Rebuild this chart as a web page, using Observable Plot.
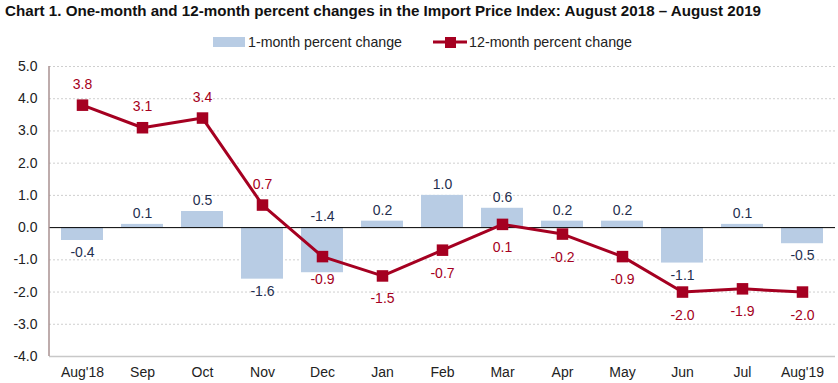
<!DOCTYPE html>
<html>
<head>
<meta charset="utf-8">
<script src="https://cdn.jsdelivr.net/npm/d3@7"></script>
<script src="https://cdn.jsdelivr.net/npm/@observablehq/plot@0.6"></script>
<style>
  html, body { margin: 0; padding: 0; background: #fff; width: 838px; height: 383px; overflow: hidden; position: relative; }
  .hdr { font-family: 'Liberation Sans', Arial, sans-serif; white-space: nowrap; position: absolute; transform-origin: 0 50%; }
  #title { left: 5px; top: 0; height: 22px; line-height: 22px; font-size: 15px; font-weight: bold; color: #111; }
  .leg { top: 32px; height: 20px; line-height: 20px; font-size: 14.5px; color: #222; }
  #chart { position: absolute; left: 0; top: 56px; }
</style>
</head>
<body>
<div id="title" class="hdr">Chart 1. One-month and 12-month percent changes in the Import Price Index: August 2018 – August 2019</div>
<svg style="position:absolute;left:0;top:0" width="838" height="56">
  <rect x="213" y="37" width="32" height="10" fill="#b8cce4"></rect>
  <line x1="433" y1="42" x2="467" y2="42" stroke="#a50021" stroke-width="3"></line>
  <rect x="445" y="37" width="11" height="11" fill="#a50021"></rect>
</svg>
<div id="leg1" class="hdr leg" style="left:248px">1-month percent change</div>
<div id="leg2" class="hdr leg" style="left:469px">12-month percent change</div>
<div id="chart"></div>
<script>
const months = ["Aug'18","Sep","Oct","Nov","Dec","Jan","Feb","Mar","Apr","May","Jun","Jul","Aug'19"];
const oneMonth = [-0.4, 0.1, 0.5, -1.6, -1.4, 0.2, 1.0, 0.6, 0.2, 0.2, -1.1, 0.1, -0.5];
const twelveMonth = [3.8, 3.1, 3.4, 0.7, -0.9, -1.5, -0.7, 0.1, -0.2, -0.9, -2.0, -1.9, -2.0];
const yTicks = [5, 4, 3, 2, 1, 0, -1, -2, -3, -4];

const data = months.map((m, i) => ({month: m, one: oneMonth[i], twelve: twelveMonth[i]}));

// Bar label placement: negative bars labeled below their end, unless the line point falls inside the bar
const barLabels = data.map(d => {
  const lineInside = d.one < 0 && d.twelve < 0 && d.twelve > d.one;
  return {...d, ly: lineInside ? 0 : d.one, up: d.one >= 0 || lineInside};
});
// Line labels: above when the line sits above bars and zero, otherwise below
const lineLabels = data.map(d => ({...d, up: d.twelve > Math.max(d.one, 0)}));

const fmt = v => v.toFixed(1);
const font = "'Liberation Sans', Arial, sans-serif";
const RED = "#a50021";

const leftLine = (index, scales, values, dims) => {
  const g = d3.create("svg:line")
    .attr("x1", dims.marginLeft).attr("x2", dims.marginLeft)
    .attr("y1", scales.y(yTicks[0])).attr("y2", scales.y(yTicks[yTicks.length - 1]))
    .attr("stroke", "#a89090").attr("stroke-width", 1.5);
  return g.node();
};

const chart = Plot.plot({
  width: 838,
  height: 327,
  marginLeft: 49,
  marginRight: 3,
  marginTop: 10,
  marginBottom: 27,
  style: {fontFamily: font, fontSize: "14px", color: "#222", background: "#fff"},
  x: {type: "band", domain: months, paddingInner: 0.3, paddingOuter: 0.15, label: null, tickSize: 0, tickPadding: 11},
  y: {domain: [-4, 5], ticks: yTicks, tickFormat: fmt, label: null, tickSize: 0, tickPadding: 12},
  marks: [
    Plot.ruleY(yTicks.filter(t => t !== 0 && t !== -4), {stroke: "#cfcfcf", strokeDasharray: "2,2"}),
    Plot.barY(data, {x: "month", y: "one", fill: "#b8cce4"}),
    Plot.ruleY([0], {stroke: "#000", strokeWidth: 1}),
    Plot.ruleY([-4], {stroke: "#c8c8c8", strokeWidth: 1.5}),
    leftLine,
    Plot.line(data, {x: "month", y: "twelve", stroke: RED, strokeWidth: 3}),
    Plot.dot(data, {x: "month", y: "twelve", symbol: "square", fill: RED, r: 6.5}),
    Plot.text(barLabels.filter(d => d.up), {x: "month", y: "ly", text: d => fmt(d.one), dy: -11, fill: "#1f2f4f", fontSize: 14}),
    Plot.text(barLabels.filter(d => !d.up), {x: "month", y: "ly", text: d => fmt(d.one), dy: 12, fill: "#1f2f4f", fontSize: 14}),
    Plot.text(lineLabels.filter(d => d.up), {x: "month", y: "twelve", text: d => fmt(d.twelve), dy: -21, fill: RED, fontSize: 14}),
    Plot.text(lineLabels.filter(d => !d.up), {x: "month", y: "twelve", text: d => fmt(d.twelve), dy: 23, fill: RED, fontSize: 14})
  ]
});
document.getElementById("chart").appendChild(chart);

// Fit header texts to the reference widths
function fit(id, w) {
  const el = document.getElementById(id);
  const cur = el.getBoundingClientRect().width;
  if (cur > 0) el.style.transform = `scaleX(${w / cur})`;
}
fit("title", 756);
fit("leg1", 154);
fit("leg2", 163);
</script>
</body>
</html>
